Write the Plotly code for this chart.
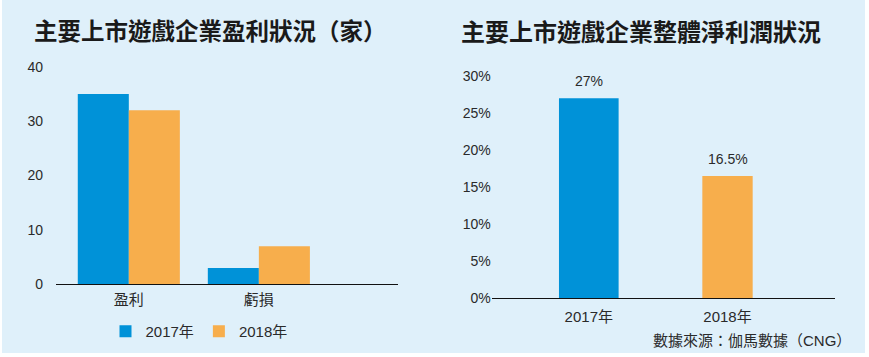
import plotly.graph_objects as go

# ---- data ----
left_categories = ["盈利", "虧損"]
left_2017 = [35, 3]
left_2018 = [32, 7]
left_series_names = ["2017年", "2018年"]
left_ticks = [0, 10, 20, 30, 40]

right_categories = ["2017年", "2018年"]
right_values = [27, 16.5]
right_labels = ["27%", "16.5%"]
right_ticks = [0, 5, 10, 15, 20, 25, 30]
right_tick_labels = ["0%", "5%", "10%", "15%", "20%", "25%", "30%"]

left_title = "主要上市遊戲企業盈利狀況（家）"
right_title = "主要上市遊戲企業整體淨利潤狀況"
source_text = "數據來源：伽馬數據（CNG）"

BLUE = "#0092d8"
ORANGE = "#f7ae4c"
BG = "#dff0fa"
TXT = "#2a2a2a"
FONT = "Liberation Sans, Arial, Noto Sans CJK TC, sans-serif"
CJK_BOLD = "Noto Sans CJK TC, sans-serif"

W, H = 869, 357

fig = go.Figure()

fig.add_trace(go.Bar(x=left_categories, y=left_2017, name=left_series_names[0],
                     marker=dict(color=BLUE, line=dict(width=0)),
                     xaxis="x", yaxis="y", hoverinfo="skip"))
fig.add_trace(go.Bar(x=left_categories, y=left_2018, name=left_series_names[1],
                     marker=dict(color=ORANGE, line=dict(width=0)),
                     xaxis="x", yaxis="y", hoverinfo="skip"))
fig.add_trace(go.Bar(x=right_categories, y=right_values, showlegend=False,
                     width=[0.43, 0.363],
                     marker=dict(color=[BLUE, ORANGE], line=dict(width=0)),
                     xaxis="x2", yaxis="y2", hoverinfo="skip"))

def px(xp):
    return xp / W

def py(yp):
    return 1 - yp / H

fig.update_layout(
    width=W, height=H,
    autosize=False,
    margin=dict(l=0, r=0, t=0, b=0, pad=0, autoexpand=False),
    paper_bgcolor="white",
    plot_bgcolor="rgba(0,0,0,0)",
    barmode="group",
    bargap=0.215,
    bargroupgap=0,
    font=dict(family=FONT, size=14, color=TXT),
    showlegend=True,
    legend=dict(orientation="h", x=px(199), y=py(331.5), xanchor="center", yanchor="middle",
                bgcolor="rgba(0,0,0,0)", font=dict(size=15, color=TXT),
                itemwidth=30, tracegroupgap=0, itemclick=False),
    xaxis=dict(domain=[px(56), px(398)], range=[-0.56, 2.07], type="category",
               showline=True, linecolor="#111", linewidth=1, showgrid=False,
               zeroline=False, ticks="", tickfont=dict(size=15, color=TXT),
               ticklabelstandoff=2, anchor="y", fixedrange=True, automargin=False),
    yaxis=dict(domain=[py(284.3), py(66.7)], range=[0, 40], tickvals=left_ticks,
               showline=False, showgrid=False, zeroline=False, ticks="",
               tickfont=dict(size=14, color=TXT), ticklabelstandoff=12,
               anchor="x", fixedrange=True, automargin=False),
    xaxis2=dict(domain=[px(491.7), px(835)], range=[-0.70, 1.775], type="category",
                showline=True, linecolor="#111", linewidth=1, showgrid=False,
                zeroline=False, ticks="", tickfont=dict(size=15, color=TXT),
                ticklabelstandoff=5, anchor="y2", fixedrange=True, automargin=False),
    yaxis2=dict(domain=[py(298.3), py(76)], range=[0, 30], tickmode="array",
                tickvals=right_ticks, ticktext=right_tick_labels,
                showline=False, showgrid=False, zeroline=False, ticks="",
                tickfont=dict(size=14, color=TXT), ticklabelstandoff=0,
                anchor="x2", fixedrange=True, automargin=False),
    shapes=[dict(type="rect", xref="paper", yref="paper", x0=px(2), x1=px(865),
                 y0=py(353), y1=1, fillcolor=BG, line=dict(width=0), layer="below")],
)

annotations = [
    dict(text=f"<b>{left_title}</b>", x=px(210), y=py(30), xref="paper", yref="paper",
         xanchor="center", yanchor="middle", showarrow=False,
         font=dict(family=CJK_BOLD, size=23.5, color="#1a1a1a")),
    dict(text=f"<b>{right_title}</b>", x=px(641), y=py(30), xref="paper", yref="paper",
         xanchor="center", yanchor="middle", showarrow=False,
         font=dict(family=CJK_BOLD, size=24, color="#1a1a1a")),
    dict(text=source_text, x=px(853), y=py(340), xref="paper", yref="paper",
         xanchor="right", yanchor="middle", showarrow=False,
         font=dict(size=15, color=TXT)),
]
for cat, val, lab in zip(right_categories, right_values, right_labels):
    annotations.append(dict(text=lab, x=cat, y=val, xref="x2", yref="y2",
                            xanchor="center", yanchor="bottom", yshift=7,
                            showarrow=False, font=dict(size=14, color=TXT)))
fig.update_layout(annotations=annotations)

fig.write_html("out.html",
               config={"displayModeBar": False, "responsive": False},
               post_script="document.body.style.margin='0';document.body.style.padding='0';"
                           "document.documentElement.style.overflow='hidden';")
